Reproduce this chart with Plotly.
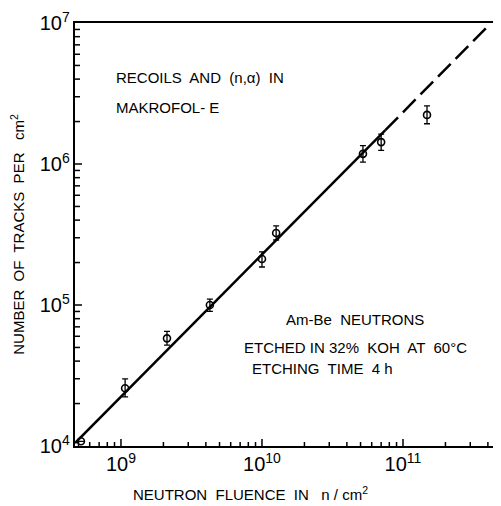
import plotly.graph_objects as go

# Data
x_fluence = [5.2e8, 1.07e9, 2.12e9, 4.27e9, 1.0e10, 1.26e10, 5.2e10, 7.0e10, 1.48e11]
y_tracks = [1.08e4, 2.57e4, 5.8e4, 1.0e5, 2.12e5, 3.24e5, 1.18e6, 1.43e6, 2.23e6]
err_plus = [0, 0.42e4, 0.7e4, 0.1e5, 0.26e5, 0.4e5, 0.17e6, 0.2e6, 0.35e6]
err_minus = [0, 0.34e4, 0.6e4, 0.1e5, 0.26e5, 0.35e5, 0.15e6, 0.18e6, 0.3e6]

fit_x_solid = [4.72e8, 7.5e10]
fit_y_solid = [1.05e4, 1.74e6]
fit_x_dashed = [7.5e10, 4.14e11]
fit_y_dashed = [1.74e6, 9.84e6]

FONT = "Liberation Sans, Arial, sans-serif"
X_RANGE = [8.674, 11.695]   # log10 range
Y_RANGE = [4, 7]

# inward tick marks (major decades + minor 2..9), built as thin segments
major_x = [10 ** d for d in range(9, 12)]
major_y = [10 ** d for d in range(4, 8)]
minor_x = [m * 10 ** d for d in range(8, 12) for m in range(2, 10)]
minor_y = [m * 10 ** d for d in range(4, 7) for m in range(2, 10)]
PX_PER_DEC = 141.0


def tick_segments(vals, length_px, along_x):
    xs, ys = [], []
    lo_x, lo_y = X_RANGE[0], Y_RANGE[0]
    for v in vals:
        if along_x:
            if not (10 ** X_RANGE[0] < v < 10 ** X_RANGE[1]):
                continue
            xs += [v, v, None]
            ys += [10 ** lo_y, 10 ** (lo_y + length_px / PX_PER_DEC), None]
        else:
            if not (10 ** Y_RANGE[0] < v < 10 ** Y_RANGE[1]):
                continue
            xs += [10 ** lo_x, 10 ** (lo_x + length_px / PX_PER_DEC), None]
            ys += [v, v, None]
    return xs, ys


fig = go.Figure()
fig.add_trace(go.Scatter(x=fit_x_solid, y=fit_y_solid, mode="lines",
                         line=dict(color="black", width=2.5), showlegend=False))
fig.add_trace(go.Scatter(x=fit_x_dashed, y=fit_y_dashed, mode="lines",
                         line=dict(color="black", width=2.5, dash="18px,7px"), showlegend=False))
fig.add_trace(go.Scatter(
    x=x_fluence, y=y_tracks, mode="markers",
    marker=dict(symbol="circle-open", size=7, color="black", line=dict(width=1.6)),
    error_y=dict(type="data", symmetric=False, array=err_plus, arrayminus=err_minus,
                 color="black", thickness=1.3, width=3),
    showlegend=False))

for vals, L, along in [(major_x, 7, True), (minor_x, 4, True),
                       (major_y, 7, False), (minor_y, 5, False)]:
    tx, ty = tick_segments(vals, L, along)
    fig.add_trace(go.Scatter(x=tx, y=ty, mode="lines", hoverinfo="skip",
                             line=dict(color="black", width=1.5), showlegend=False,
                             cliponaxis=False))

axis_common = dict(type="log", tickmode="linear", tick0=0, dtick=1,
                   exponentformat="power", ticks="",
                   showline=True, linecolor="black", linewidth=2,
                   showgrid=False, zeroline=False,
                   tickfont=dict(family=FONT, size=16, color="black"))

fig.update_layout(
    xaxis=dict(range=X_RANGE, mirror=True, **axis_common),
    yaxis=dict(range=Y_RANGE, **axis_common,
               title=dict(text="NUMBER  OF  TRACKS  PER   cm<sup>2</sup>",
                          font=dict(family=FONT, size=15, color="black"), standoff=14)),
)

ann_font = dict(family=FONT, size=15, color="black")
annots = [
    ("RECOILS  AND  (n,α)  IN", 0.092, 0.872),
    ("MAKROFOL- E", 0.092, 0.801),
    ("Am-Be  NEUTRONS", 0.49, 0.298),
    ("ETCHED IN 32%  KOH  AT  60°C", 0.392, 0.234),
    ("ETCHING  TIME  4 h", 0.41, 0.184),
]
for t, ax, ay in annots:
    fig.add_annotation(text=t, x=ax, y=ay, xref="paper", yref="paper",
                       xanchor="left", yanchor="middle", showarrow=False, font=ann_font)

fig.add_annotation(text="NEUTRON  FLUENCE  IN   n / cm<sup>2</sup>",
                   x=(250 - 75) / 426, y=(446 - 493) / 423,
                   xref="paper", yref="paper", showarrow=False, font=ann_font,
                   xanchor="center", yanchor="middle")

# page body adds an 8px offset; compensate so the plot area sits at x 75..501, y 23..446
fig.update_layout(width=493, height=498,
                  margin=dict(l=67, r=0, t=15, b=60),
                  paper_bgcolor="white", plot_bgcolor="white",
                  font=dict(family=FONT, color="black"))

fig.write_html("out.html")
